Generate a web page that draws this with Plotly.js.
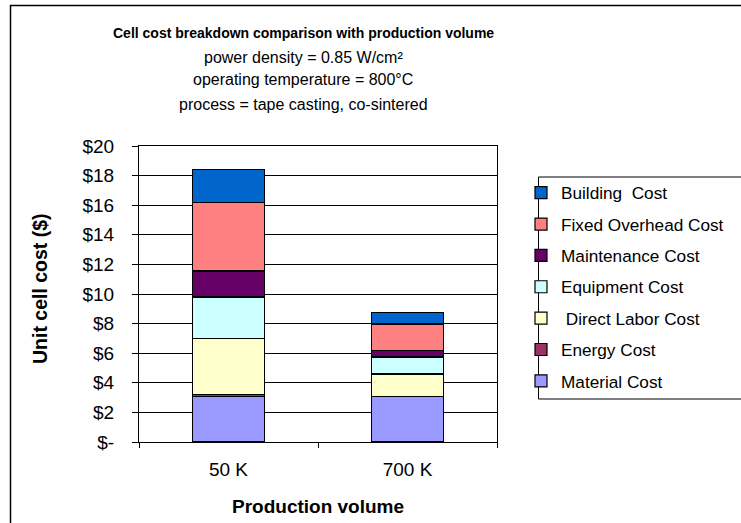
<!DOCTYPE html>
<html>
<head>
<meta charset="utf-8">
<script src="https://cdn.plot.ly/plotly-3.0.1.min.js"></script>
<style>
html,body{margin:0;padding:0;background:#fff;overflow:hidden;}
#chart{width:741px;height:523px;}
</style>
</head>
<body>
<div id="chart"></div>
<script>
const categories = ["50 K", "700 K"];
const seriesNames = ["Material Cost", "Energy Cost", " Direct Labor Cost", "Equipment Cost", "Maintenance Cost", "Fixed Overhead Cost", "Building  Cost"];
const materialCost = [3.10, 3.05];
const energyCost = [0.10, 0.05];
const laborCost = [3.80, 1.50];
const equipmentCost = [2.80, 1.15];
const maintenanceCost = [1.75, 0.43];
const fixedOverheadCost = [4.65, 1.80];
const buildingCost = [2.20, 0.75];
const seriesColors = ["#9999FF", "#993366", "#FFFFCC", "#CCFFFF", "#660066", "#FF8080", "#0066CC"];
const tickVals = [0, 2, 4, 6, 8, 10, 12, 14, 16, 18, 20];
const tickText = ["$-", "$2", "$4", "$6", "$8", "$10", "$12", "$14", "$16", "$18", "$20"];
const titleLines = ["<b>Cell cost breakdown comparison with production volume</b>", "power density = 0.85 W/cm²", "operating temperature = 800°C", "process = tape casting, co-sintered"];
const xAxisTitle = "<b>Production volume</b>";
const yAxisTitle = "<b>Unit cell cost ($)</b>";

const seriesValues = [materialCost, energyCost, laborCost, equipmentCost, maintenanceCost, fixedOverheadCost, buildingCost];
const FONT = "Liberation Sans, Arial, sans-serif";

const traces = seriesValues.map((vals, i) => ({
  type: "bar",
  name: seriesNames[i],
  x: categories,
  y: vals,
  legendgroup: "g" + i,
  legendrank: seriesValues.length - i,
  marker: {color: seriesColors[i], line: {color: "#000", width: 1.2}},
  hoverinfo: "skip"
}));

// plot area in px: left 139, right 497, top 146, bottom 442
const L = 139, R = 497, T = 146, B = 442, W = 741, H = 523;
const px = x => (x - L) / (R - L);
const py = y => (B - y) / (B - T);

const titleY = [33, 57, 80, 104];
const annotations = titleLines.map((t, i) => ({
  text: t, xref: "paper", yref: "paper", x: px(303), y: py(titleY[i]),
  xanchor: "center", yanchor: "middle", showarrow: false,
  font: {family: FONT, size: i === 0 ? 14 : 16, color: "#000"}
}));
annotations.push({
  text: xAxisTitle, xref: "paper", yref: "paper", x: px(318), y: py(506),
  xanchor: "center", yanchor: "middle", showarrow: false,
  font: {family: FONT, size: 19, color: "#000"}
});
annotations.push({
  text: yAxisTitle, xref: "paper", yref: "paper", x: px(40), y: py(289),
  xanchor: "center", yanchor: "middle", showarrow: false, textangle: -90,
  font: {family: FONT, size: 19.5, color: "#000"}
});

const layout = {
  width: W, height: H,
  margin: {l: L, r: W - R, t: T, b: H - B, pad: 0},
  paper_bgcolor: "#fff", plot_bgcolor: "#fff",
  barmode: "stack", bargap: 0.6,
  font: {family: FONT, size: 19, color: "#000"},
  showlegend: true,
  legend: {
    x: px(521), y: py(175), xanchor: "left", yanchor: "top",
    traceorder: "grouped", tracegroupgap: 6,
    font: {family: FONT, size: 17.2, color: "#000"},
    bgcolor: "rgba(0,0,0,0)", borderwidth: 0
  },
  xaxis: {
    type: "category", showline: true, linecolor: "#000", linewidth: 1, mirror: true,
    ticks: "outside", ticklen: 5, tickcolor: "#000", tickson: "boundaries",
    ticklabelstandoff: 10,
    showgrid: false, tickfont: {family: FONT, size: 19}
  },
  yaxis: {
    range: [0, 20], tickvals: tickVals, ticktext: tickText,
    showline: true, linecolor: "#000", linewidth: 1, mirror: true,
    ticks: "outside", ticklen: 6, tickcolor: "#000", ticklabelstandoff: 14,
    showgrid: true, gridcolor: "#000", gridwidth: 1, zeroline: false,
    tickfont: {family: FONT, size: 19}
  },
  annotations: annotations,
  shapes: [
    {type: "rect", xref: "paper", yref: "paper", x0: px(10.5), x1: px(760), y0: py(540), y1: py(5.5),
     line: {color: "#000", width: 1.5}, fillcolor: "rgba(0,0,0,0)", layer: "below"},
    {type: "rect", xref: "paper", yref: "paper", x0: px(538.5), x1: px(760), y0: py(399), y1: py(177),
     line: {color: "#000", width: 1}, fillcolor: "rgba(0,0,0,0)", layer: "above"}
  ]
};

Plotly.newPlot("chart", traces, layout, {displayModeBar: false, staticPlot: true});
</script>
</body>
</html>
